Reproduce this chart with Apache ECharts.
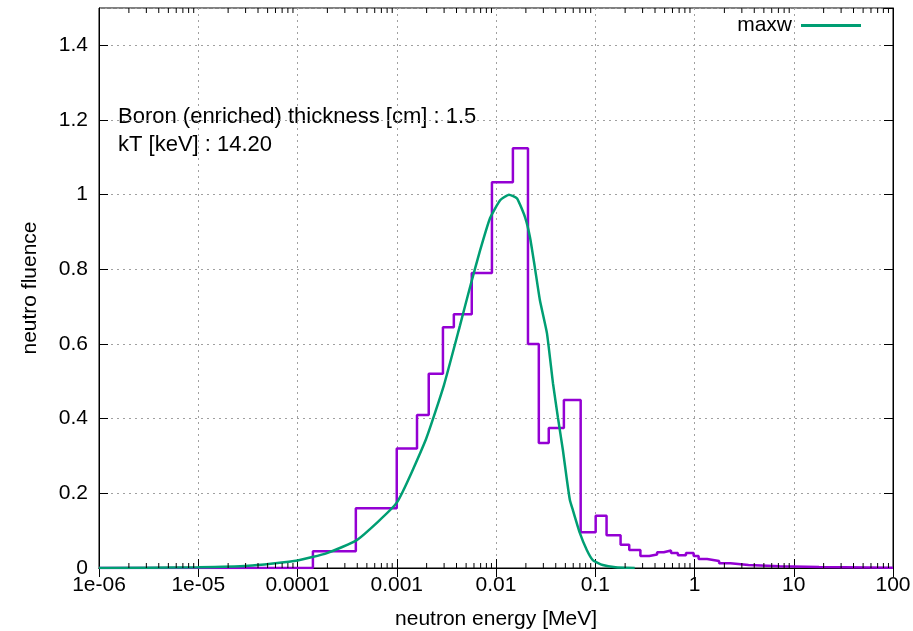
<!DOCTYPE html>
<html>
<head>
<meta charset="utf-8">
<script src="https://cdn.jsdelivr.net/npm/echarts@6/dist/echarts.min.js"></script>
<style>
  html, body { margin: 0; padding: 0; background: #fff; }
  #chart { width: 913px; height: 631px; }
</style>
</head>
<body>
<div id="chart"></div>
<script>
// histogram: left bin edges (MeV) and value in each bin, last edge closes the range
const histEdges = [1e-6, 1.43e-4, 3.87e-4, 1e-3, 1.6e-3, 2.1e-3, 2.92e-3, 3.76e-3, 5.7e-3, 9.1e-3,
  0.0148, 0.021, 0.027, 0.034, 0.0483, 0.0713, 0.101, 0.13, 0.18, 0.22,
  0.285, 0.35, 0.42, 0.49, 0.58, 0.68, 0.82, 0.98, 1.1, 1.34,
  1.77, 2.3, 3.5, 7.2, 18, 100];
const histValues = [0, 0.045, 0.16, 0.32, 0.41, 0.52, 0.645, 0.68, 0.79, 1.033,
  1.124, 0.60, 0.335, 0.375, 0.45, 0.096, 0.14, 0.088, 0.062, 0.048,
  0.032, 0.036, 0.042, 0.047, 0.04, 0.034, 0.04, 0.032, 0.024, 0.019,
  0.013, 0.008, 0.005, 0.003, 0.001];

// maxwellian fit
const maxwEnergy = [1e-6, 1e-5, 3.2e-5, 1e-4, 1.98e-4, 3.98e-4, 1e-3, 1.97e-3, 2.99e-3, 4.34e-3,
  5.47e-3, 6.9e-3, 8.7e-3, 0.011, 0.0135, 0.0163, 0.0196, 0.022, 0.0246, 0.0277,
  0.0326, 0.0375, 0.042, 0.0472, 0.0518, 0.0555, 0.0595, 0.0699, 0.0822, 0.0945,
  0.119, 0.16, 0.25];
const maxwValues = [0, 0.002, 0.006, 0.02, 0.04, 0.075, 0.175, 0.345, 0.49, 0.65,
  0.752, 0.85, 0.937, 0.985, 1.0, 0.99, 0.94, 0.886, 0.806, 0.717,
  0.629, 0.495, 0.404, 0.316, 0.236, 0.182, 0.155, 0.094, 0.048, 0.021,
  0.008, 0.002, 0];

const xTickLabels = {
  '-6': '1e-06', '-5': '1e-05', '-4': '0.0001', '-3': '0.001', '-2': '0.01',
  '-1': '0.1', '0': '1', '1': '10', '2': '100'
};

// log minor ticks 2..9 in every decade
const minorTicks = [];
for (let d = -6; d < 2; d++) {
  for (let k = 2; k <= 9; k++) minorTicks.push(k * Math.pow(10, d));
}

const histData = histEdges.map((e, i) => [e, i < histValues.length ? histValues[i] : histValues[histValues.length - 1]]);
const maxwData = maxwEnergy.map((e, i) => [e, maxwValues[i]]);

const font = 'Liberation Sans, Arial, sans-serif';
const gridLine = { show: true, lineStyle: { color: '#a0a0a0', type: [2, 4], width: 1 } };

const chart = echarts.init(document.getElementById('chart'));

const option = {
  backgroundColor: '#fff',
  animation: false,
  grid: {
    left: 99, right: 20, top: 8, bottom: 63,
    containLabel: false,
    outerBoundsMode: 'none',
    show: true, borderColor: '#000', borderWidth: 1
  },
  legend: {
    data: [{ name: 'maxw', icon: 'rect' }],
    right: 47, top: 10,
    align: 'right',
    itemWidth: 60, itemHeight: 3, itemGap: 10,
    textStyle: { fontFamily: font, fontSize: 21, color: '#000', padding: [0, 4, 0, 0] }
  },
  graphic: [
    { type: 'text', left: 118, top: 106, style: { text: 'Boron (enriched) thickness [cm] : 1.5', font: '22px ' + font, fill: '#000' } },
    { type: 'text', left: 118, top: 134, style: { text: 'kT [keV] : 14.20', font: '22px ' + font, fill: '#000' } }
  ],
  xAxis: [
    {
      type: 'log', logBase: 10, min: 1e-6, max: 100, splitNumber: 8,
      name: 'neutron energy [MeV]', nameLocation: 'middle', nameGap: 41,
      nameTextStyle: { fontFamily: font, fontSize: 21, color: '#000' },
      axisLine: { lineStyle: { color: '#000' } },
      axisTick: { inside: true, length: 9, lineStyle: { color: '#000' } },
      axisLabel: {
        fontFamily: font, fontSize: 21, color: '#000', margin: 7,
        formatter: v => xTickLabels[String(Math.round(Math.log10(v)))] || ''
      },
      splitLine: gridLine
    },
    {
      type: 'log', logBase: 10, min: 1e-6, max: 100, splitNumber: 8, position: 'top',
      axisLine: { lineStyle: { color: '#000' } },
      axisTick: { inside: true, length: 9, lineStyle: { color: '#000' } },
      axisLabel: { show: false },
      splitLine: { show: false }
    }
  ],
  yAxis: [
    {
      type: 'value', min: 0, max: 1.5, interval: 0.2,
      name: 'neutro fluence', nameLocation: 'middle', nameGap: 58,
      nameTextStyle: { fontFamily: font, fontSize: 21, color: '#000' },
      axisLine: { show: true, lineStyle: { color: '#000' } },
      axisTick: { inside: true, length: 9, lineStyle: { color: '#000' } },
      axisLabel: { fontFamily: font, fontSize: 21, color: '#000', margin: 11, showMaxLabel: false },
      splitLine: gridLine
    },
    {
      type: 'value', min: 0, max: 1.5, interval: 0.2, position: 'right',
      axisLine: { show: true, lineStyle: { color: '#000' } },
      axisTick: { inside: true, length: 9, lineStyle: { color: '#000' } },
      axisLabel: { show: false },
      splitLine: { show: false }
    }
  ],
  series: [
    {
      name: 'hist',
      type: 'line',
      step: 'end',
      data: histData,
      symbol: 'none',
      lineStyle: { color: '#9400d3', width: 2.5 },
      itemStyle: { color: '#9400d3' },
      z: 3
    },
    {
      name: 'maxw',
      type: 'line',
      data: maxwData,
      symbol: 'none',
      smooth: 0.15,
      lineStyle: { color: '#009e73', width: 2.5 },
      itemStyle: { color: '#009e73' },
      z: 4
    },
    {
      // minor ticks of the log axis, top and bottom
      name: 'minor',
      type: 'custom',
      silent: true,
      data: minorTicks.map(v => [v, 0]),
      renderItem: (params, api) => {
        const b = api.coord([api.value(0), 0]);
        const t = api.coord([api.value(0), 1.5]);
        return {
          type: 'group',
          children: [
            { type: 'line', shape: { x1: b[0], y1: b[1], x2: b[0], y2: b[1] - 5 }, style: { stroke: '#000', lineWidth: 1 } },
            { type: 'line', shape: { x1: t[0], y1: t[1], x2: t[0], y2: t[1] + 5 }, style: { stroke: '#000', lineWidth: 1 } }
          ]
        };
      },
      z: 5
    }
  ]
};

chart.setOption(option);

window.addEventListener('resize', function () {
  chart.resize();
});
</script>
</body>
</html>
